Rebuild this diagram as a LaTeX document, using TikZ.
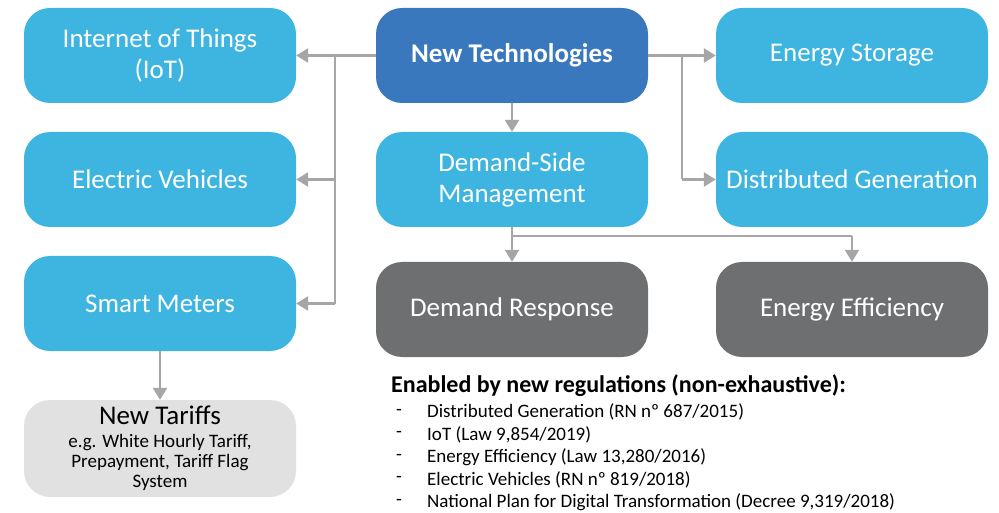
\documentclass[tikz,border=0pt]{standalone}
\usepackage{fontspec}
\setmainfont{Carlito}
\usetikzlibrary{arrows.meta}
\definecolor{lblue}{HTML}{3DB5E0}
\definecolor{dblue}{HTML}{3A78BE}
\definecolor{dgray}{HTML}{6E6F71}
\definecolor{lgray}{HTML}{E1E1E1}
\definecolor{agray}{HTML}{A6A6A6}
\tikzset{
  box/.style={rounded corners=26pt, minimum width=272pt, minimum height=95pt, inner sep=0pt, align=center, text=white, font=\fontsize{27}{31}\selectfont},
  bluebox/.style={box, fill=lblue},
  darkbox/.style={box, fill=dblue, font=\fontsize{27}{31}\selectfont\bfseries},
  graybox/.style={box, fill=dgray},
  tarbox/.style={box, fill=lgray, text=black, minimum height=97pt, font=\fontsize{19}{20}\selectfont},
  conn/.style={draw=agray, line width=2.6pt, -{Triangle[length=12pt,width=14pt]}},
  cline/.style={draw=agray, line width=2.6pt},
  regtxt/.style={anchor=west, inner sep=0pt, font=\fontsize{19}{22}\selectfont},
}
\newcommand{\bigt}{\fontsize{27}{29}\selectfont}
\newcommand{\smt}{\fontsize{19}{20}\selectfont}
\begin{document}
\begin{tikzpicture}[x=1pt,y=-1pt]
\useasboundingbox (0,0) rectangle (999,513);
\node[bluebox] (iot) at (160,55.5) {\raisebox{-2pt}{Internet of Things}\\\raisebox{-2pt}{(IoT)}};
\node[darkbox] (nt) at (512,55.5) {\raisebox{-2pt}{New Technologies}};
\node[bluebox] (es) at (852,55.5) {\raisebox{-2pt}{Energy Storage}};
\node[bluebox] (ev) at (160,179.5) {Electric Vehicles};
\node[bluebox] (dsm) at (512,179.5) {Demand-Side\\Management};
\node[bluebox] (dg) at (852,179.5) {Distributed Generation};
\node[bluebox] (sm) at (160,303.5) {Smart Meters};
\node[graybox] (dr) at (512,309.5) {\raisebox{-1pt}{Demand Response}};
\node[graybox] (ee) at (852,309.5) {\raisebox{-1pt}{Energy Efficiency}};
\node[tarbox] (nt2) at (160,448.5) {\bigt New Tariffs\\[3pt]\smt e.g. White Hourly Tariff,\\\smt Prepayment, Tariff Flag\\\smt System};
% left branch
\draw[conn] (nt.west) -- (iot.east);
\draw[cline] (335,55.5) -- (335,303.5);
\draw[conn] (335,179.5) -- (ev.east);
\draw[conn] (335,303.5) -- (sm.east);
% right branch
\draw[conn] (nt.east) -- (es.west);
\draw[cline] (682,55.5) -- (682,179.5);
\draw[conn] (682,179.5) -- (dg.west);
% down
\draw[conn] (nt.south) -- (dsm.north);
\draw[conn] (dsm.south) -- (dr.north);
\draw[cline] (512,236) -- (852,236);
\draw[conn] (852,236) -- (ee.north);
\draw[conn] (sm.south) -- (nt2.north);
% regulations
\node[anchor=west, inner sep=0pt, font=\fontsize{24}{26}\selectfont\bfseries] (hd) at (391,386) {Enabled by new regulations (non-exhaustive):};
\foreach \y/\t [count=\i] in {412/{Distributed Generation (RN nº 687/2015)},434.5/{IoT (Law 9,854/2019)},457/{Energy Efficiency (Law 13,280/2016)},479.5/{Electric Vehicles (RN nº 819/2018)},502/{National Plan for Digital Transformation (Decree 9,319/2018)}}{
  \node[regtxt] (d\i) at (396,\y) {-};
  \node[regtxt] (r\i) at (427,\y) {\t};
}
\end{tikzpicture}
\end{document}
